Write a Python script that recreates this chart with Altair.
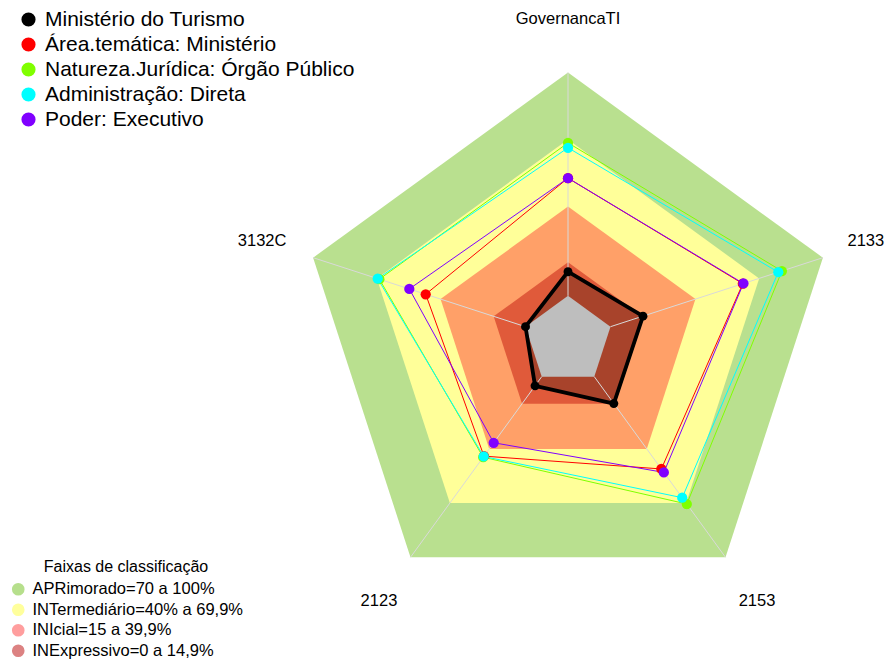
import altair as alt
import pandas as pd
import numpy as np

# ---------------- data ----------------
axes_names = ["GovernancaTI", "2133", "2153", "2123", "3132C"]
axes_angles = [90, 18, -54, -126, 162]

series_names = [
    "Ministério do Turismo",
    "Área.temática: Ministério",
    "Natureza.Jurídica: Órgão Público",
    "Administração: Direta",
    "Poder: Executivo",
]
series_colors = ["#000000", "#FF0000", "#80FF00", "#00FFFF", "#8000FF"]
v_turismo = [10.8, 15.3, 14.9, 5.1, 0.0]
v_area = [52.7, 62.3, 51.1, 44.0, 47.0]
v_natureza = [68.5, 80.7, 70.5, 44.6, 68.8]
v_admin = [66.3, 79.0, 67.0, 44.2, 69.6]
v_poder = [52.7, 62.6, 53.0, 36.6, 54.7]
series_values = [v_turismo, v_area, v_natureza, v_admin, v_poder]

band_names = [
    "APRimorado=70 a 100%",
    "INTermediário=40% a 69,9%",
    "INIcial=15 a 39,9%",
    "INExpressivo=0 a 14,9%",
]
band_upper = [100, 70, 40, 15]
band_fill = ["#B9E08F", "#FFFF99", "#FFA068", "#E05A3A"]
band_legend_colors = ["#B6DF8C", "#FFFF9C", "#FF9E9E", "#DC8282"]
center_fill = "#BEBEBE"
legend_title = "Faixas de classificação"


def radius(v):
    return 1 / 6 + v / 100 * 5 / 6


def polygon_rows(vals, **extra):
    out = []
    for k in range(6):
        a = np.deg2rad(axes_angles[k % 5])
        r = radius(vals[k % 5])
        d = dict(idx=k, x=r * np.cos(a), y=r * np.sin(a))
        d.update(extra)
        out.append(d)
    return out


# ---------------- scales ----------------
W, H = 878, 652
R_PX = 268.0
CX, CY = 560.0, 332.5
xscale = alt.Scale(domain=[-CX / R_PX, (W - CX) / R_PX], nice=False, zero=False)
yscale = alt.Scale(domain=[-(H - CY) / R_PX, CY / R_PX], nice=False, zero=False)
X = lambda f="x": alt.X(f"{f}:Q", scale=xscale, axis=None)
Y = lambda f="y": alt.Y(f"{f}:Q", scale=yscale, axis=None)

layers = []

# bands
for name, up, col in zip(band_names, band_upper, band_fill):
    df = pd.DataFrame(polygon_rows([up] * 5, band=name))
    layers.append(
        alt.Chart(df)
        .mark_line(fill=col, strokeOpacity=0, strokeWidth=0)
        .encode(x=X(), y=Y(), order=alt.Order("idx:Q"))
    )

# black series fill
df_bfill = pd.DataFrame(polygon_rows(v_turismo, sname=series_names[0]))
layers.append(
    alt.Chart(df_bfill)
    .mark_line(fill="#000000", fillOpacity=0.25, strokeOpacity=0, strokeWidth=0)
    .encode(x=X(), y=Y(), order=alt.Order("idx:Q"))
)

# gray center
df_center = pd.DataFrame(polygon_rows([0] * 5, band="center"))
layers.append(
    alt.Chart(df_center)
    .mark_line(fill=center_fill, strokeOpacity=0, strokeWidth=0)
    .encode(x=X(), y=Y(), order=alt.Order("idx:Q"))
)

# spokes
spk = []
for name, ang in zip(axes_names, axes_angles):
    a = np.deg2rad(ang)
    spk.append(dict(axis=name,
                    x=radius(0) * np.cos(a), y=radius(0) * np.sin(a),
                    x2=radius(100) * np.cos(a), y2=radius(100) * np.sin(a)))
df_spk = pd.DataFrame(spk)
layers.append(
    alt.Chart(df_spk)
    .mark_rule(color="#D9D9D9", strokeWidth=1)
    .encode(x=X(), y=Y(), x2="x2:Q", y2="y2:Q")
)

# series lines and points
line_rows, pt_rows = [], []
for s, (name, vals) in enumerate(zip(series_names, series_values)):
    line_rows += polygon_rows(vals, sname=name, sidx=s)
    for k in range(5):
        a = np.deg2rad(axes_angles[k])
        r = radius(vals[k])
        pt_rows.append(dict(series=name, sidx=s, psize=80 if s == 0 else 105,
                            x=r * np.cos(a), y=r * np.sin(a)))
df_lines = pd.DataFrame(line_rows)
df_pts = pd.DataFrame(pt_rows)

stroke_enc = alt.Stroke("sname:N",
                        scale=alt.Scale(domain=series_names, range=series_colors),
                        legend=None)

# black line (thick)
layers.append(
    alt.Chart(df_lines[df_lines.sidx == 0])
    .mark_line(strokeWidth=3.8, strokeJoin="round")
    .encode(x=X(), y=Y(), stroke=stroke_enc, detail="sname:N", order=alt.Order("idx:Q"))
)
# other lines (thin)
layers.append(
    alt.Chart(df_lines[df_lines.sidx > 0])
    .mark_line(strokeWidth=1)
    .encode(x=X(), y=Y(), stroke=stroke_enc, detail="sname:N", order=alt.Order("idx:Q"))
)
# points (all series, one layer -> series legend)
layers.append(
    alt.Chart(df_pts)
    .mark_circle(opacity=1)
    .encode(
        x=X(), y=Y(),
        size=alt.Size("psize:Q", scale=None, legend=None),
        color=alt.Color(
            "series:N",
            sort=series_names,
            scale=alt.Scale(range=series_colors),
            legend=alt.Legend(
                title=None, orient="none", legendX=10, legendY=1, padding=0,
                symbolType="circle", symbolSize=200, symbolStrokeWidth=0, symbolOpacity=1,
                labelFont="Liberation Sans", labelFontSize=21, labelColor="#000000",
                labelOffset=6, rowPadding=3, labelLimit=500,
            ),
        ),
        order=alt.Order("sidx:Q"),
    )
)

# axis labels
lab = []
for name, ang in zip(axes_names, axes_angles):
    a = np.deg2rad(ang)
    lab.append(dict(label=name, x=1.2 * np.cos(a), y=1.2 * np.sin(a)))
df_lab = pd.DataFrame(lab)
layers.append(
    alt.Chart(df_lab[df_lab.label != "2133"])
    .mark_text(font="Liberation Sans", fontSize=16.5, color="#000000")
    .encode(x=X(), y=Y(), text="label:N")
)
layers.append(
    alt.Chart(df_lab[df_lab.label == "2133"])
    .mark_text(font="Liberation Sans", fontSize=16.5, color="#000000", dx=-8)
    .encode(x=X(), y=Y(), text="label:N")
)

# band legend (marks placed outside the plot and clipped; only the legend shows)
df_bl = pd.DataFrame({"band": band_names, "x": [-50.0] * 4, "y": [-50.0] * 4})
layers.append(
    alt.Chart(df_bl)
    .mark_circle(opacity=1, clip=True)
    .encode(
        x=X(), y=Y(),
        fill=alt.Fill(
            "band:N",
            sort=band_names,
            scale=alt.Scale(range=band_legend_colors),
            legend=alt.Legend(
                title=legend_title, orient="none", legendX=2, legendY=551, padding=0,
                titleFont="Liberation Sans", titleFontSize=16, titleFontWeight="normal",
                titleColor="#000000", titleAnchor="middle", titlePadding=6,
                symbolType="circle", symbolSize=160, symbolStrokeWidth=0, symbolOpacity=1,
                labelFont="Liberation Sans", labelFontSize=16.5, labelColor="#000000",
                labelOffset=6, rowPadding=3.5, labelLimit=500,
            ),
        ),
    )
)

chart = (
    alt.layer(*layers)
    .properties(width=W, height=H, autosize=alt.AutoSizeParams(type="none"), padding=0)
    .configure_view(strokeWidth=0)
)

chart.save("out.html", embed_options={"renderer": "svg", "actions": False})
